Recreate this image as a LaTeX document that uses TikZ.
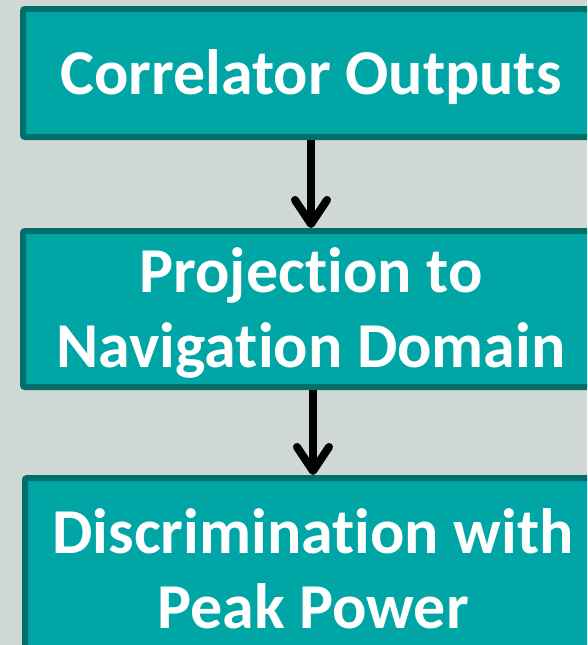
\documentclass[tikz,border=0pt]{standalone}
\usepackage{fontspec}
\setmainfont{Carlito}[Ligatures=NoCommon]
\usetikzlibrary{arrows.meta}

\definecolor{pagebg}{HTML}{D0D8D5}
\definecolor{boxfill}{HTML}{00A5A5}
\definecolor{boxedge}{HTML}{006F6C}

\tikzset{
  flowbox/.style={draw=boxedge, fill=boxfill, line width=6pt,
    rounded corners=2pt, minimum width=576pt, inner sep=0pt},
  boxtext/.style={align=center, text=white, inner sep=0pt,
    font=\fontsize{64}{75}\selectfont\bfseries},
  flowarrow/.style={line width=8pt, black,
    -{Straight Barb[round, length=24pt, width=32pt]}}
}

\begin{document}
\begin{tikzpicture}[x=1pt, y=-1pt]
  \useasboundingbox (0,0) rectangle (587,645);
  \fill[pagebg] (0,0) rectangle (587,645);
  \clip (0,0) rectangle (587,645);

  % processing stages, top to bottom
  \node[flowbox, minimum height=128pt] (outputs) at (311,73) {};
  \node[flowbox, minimum height=156pt] (projection) at (311,309) {};
  \node[flowbox, minimum height=174pt] (discrimination) at (313,565) {};

  % stage captions, set slightly below the box centres
  \node[boxtext] (outputs-text) at ([yshift=-4pt]outputs.center)
    {Correlator Outputs};
  \node[boxtext] (projection-text) at ([yshift=-4pt]projection.center)
    {Projection to\\Navigation Domain};
  \node[boxtext] (discrimination-text) at ([yshift=-4pt]discrimination.center)
    {Discrimination with\\Peak Power};

  % flow between the stages
  \draw[flowarrow] (outputs.south -| 311,0) -- (projection.north -| 311,0);
  \draw[flowarrow] (projection.south -| 313,0) -- (discrimination.north -| 313,0);
\end{tikzpicture}
\end{document}
